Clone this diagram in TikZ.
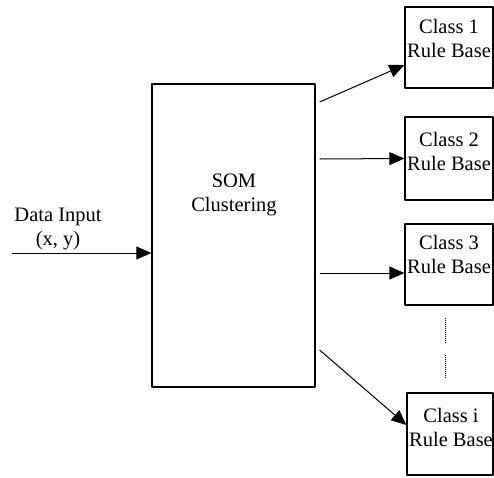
\documentclass[tikz,border=0pt]{standalone}
\usepackage{fontspec}
\setmainfont{Liberation Serif}
\usetikzlibrary{arrows.meta}
\begin{document}
\begin{tikzpicture}[x=1pt,y=-1pt,font=\fontsize{20.5}{24}\selectfont,line join=round,
  box/.style={draw,line width=1.3pt,inner sep=0pt},
  txt/.style={align=center,inner sep=0pt},
  arr/.style={-{Triangle[length=15pt,width=13pt]},line width=1pt}]
\useasboundingbox (0,0) rectangle (494,477);
% SOM block and input
\node[box,minimum width=163pt,minimum height=303pt] (som) at (233.5,235.5) {};
\node[txt] (somtxt) at (234,195) {SOM\\Clustering};
\node[txt] (input) at (58,229) {Data Input\\(x, y)};
\coordinate (in) at (12,253);
\draw[arr] (in) -- ([yshift=-17.5pt]som.west);
% rule bases
\node[box,minimum width=88pt,minimum height=81pt] (c1) at (449,47.5) {};
\node[box,minimum width=88pt,minimum height=83pt] (c2) at (449,158.5) {};
\node[box,minimum width=88pt,minimum height=81pt] (c3) at (449,264.5) {};
\node[box,minimum width=86pt,minimum height=82pt] (ci) at (450,434) {};
\node[txt] (t1) at (449,38.5) {Class 1\\Rule Base};
\node[txt] (t2) at (449,151.5) {Class 2\\Rule Base};
\node[txt] (t3) at (449,254) {Class 3\\Rule Base};
\node[txt] (ti) at (451,427.5) {Class i\\Rule Base};
% outputs
\draw[arr] ([xshift=4pt,yshift=133.5pt]som.east) -- ([yshift=-17.5pt]c1.west);
\draw[arr] ([xshift=4pt,yshift=76.5pt]som.east) -- (c2.west);
\draw[arr] ([xshift=4pt,yshift=-37.5pt]som.east) -- ([yshift=-8.5pt]c3.west);
\draw[arr] ([xshift=4pt,yshift=-114.5pt]som.east) -- ([yshift=9pt]ci.west);
\draw[densely dotted,line width=1pt] (445,318) -- (445,343);
\draw[densely dotted,line width=1pt] (445,355) -- (445,378);
\end{tikzpicture}
\end{document}
